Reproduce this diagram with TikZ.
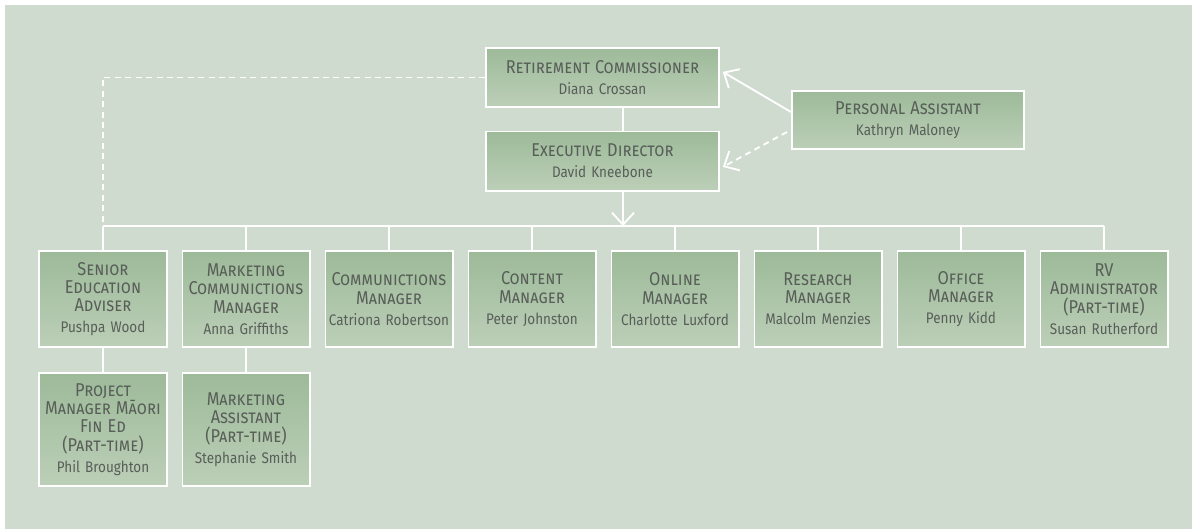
\documentclass[tikz,border=0pt]{standalone}
\usepackage{fontspec}
\setmainfont{Fira Sans}[FakeStretch=0.88]
\usepackage{tikz}
\usetikzlibrary{arrows.meta}
\usepackage{xcolor}
\definecolor{ocbg}{RGB}{208,219,208}
\definecolor{ocboxtop}{RGB}{157,186,153}
\definecolor{ocboxbot}{RGB}{188,207,184}
\definecolor{octext}{RGB}{88,94,88}
\tikzstyle{link} = [line width=1.3pt,color=white]
\tikzstyle{arrow} = [line width=1.3pt,-{Straight Barb[length=3mm,width=5.5mm]},color=white]
\tikzstyle{dashlink} = [link,dash pattern=on 1.5mm off 1.1mm]
\tikzstyle{dasharrow} = [arrow,dash pattern=on 1.5mm off 1.1mm]
\newcommand{\roletitle}[1]{{\fontsize{13.2}{13}\selectfont\scshape #1}}

\begin{document}
\begin{tikzpicture}[x=0.025cm, y=-0.025cm,
    role/.style={rectangle, draw=white, line width=1.4pt, top color=ocboxtop, bottom color=ocboxbot, text=octext, align=center, inner sep=0pt, font=\fontsize{10.9}{13}\selectfont},
    boss/.style={role, minimum width=5.825cm, minimum height=1.475cm, text width=5.6cm},
    staff/.style={role, minimum width=3.175cm, minimum height=2.4cm, text width=3.175cm},
    substaff/.style={staff, minimum height=2.825cm}]

% Background
\fill[white] (0,0) rectangle (1192,529);
\useasboundingbox (0,0) rectangle (1192,529);
\fill[ocbg] (5,5) rectangle (1192,529);

% Top of the chart
\node[boss] (rc) at (602.5,77.5) {\roletitle{Retirement Commissioner}\\[2pt]Diana Crossan};
\node[boss] (ed) at (602.5,161) {\roletitle{Executive Director}\\[2pt]David Kneebone};
\node[boss, minimum width=5.8cm, minimum height=1.45cm] (pa) at (908,120) {\roletitle{Personal Assistant}\\[2pt]Kathryn Maloney};

% Managers
\node[staff] (senior) at (103,299) {\roletitle{Senior\\Education\\Adviser}\\[2pt]Pushpa Wood};
\node[staff] (marcom) at (246,299) {\roletitle{Marketing\\Communictions\\Manager}\\[2pt]Anna Griffiths};
\node[staff] (comms) at (389,299) {\roletitle{Communictions\\Manager}\\[2pt]Catriona Robertson};
\node[staff] (content) at (532,299) {\roletitle{Content\\Manager}\\[2pt]Peter Johnston};
\node[staff] (online) at (675,299) {\roletitle{Online\\Manager}\\[2pt]Charlotte Luxford};
\node[staff] (research) at (818,299) {\roletitle{Research\\Manager}\\[2pt]Malcolm Menzies};
\node[staff] (office) at (961,299) {\roletitle{Office\\Manager}\\[2pt]Penny Kidd};
\node[staff] (rvadmin) at (1104,299) {\roletitle{RV\\Administrator\\(Part-time)}\\[2pt]Susan Rutherford};

% Second row
\node[substaff] (maori) at (103,429.5) {\roletitle{Project\\Manager Māori\\Fin Ed\\(Part-time)}\\[2pt]Phil Broughton};
\node[substaff] (markasst) at (246,429.5) {\roletitle{Marketing\\Assistant\\(Part-time)}\\[2pt]Stephanie Smith};

% Connectors
\coordinate (bus) at (623,226);
\draw[link] (rc.south -| bus) -- (ed.north -| bus);
\draw[arrow] (ed.south -| bus) -- (bus);
\draw[dashlink] (rc.west) -| (senior.north |- bus);
\draw[arrow] ([yshift=0.2cm]pa.west) -- ([xshift=0.07cm,yshift=0.14cm]rc.east);
\draw[dasharrow] ([xshift=-0.1cm,yshift=-0.3cm]pa.west) -- ([xshift=0.07cm,yshift=-0.15cm]ed.east);

\draw[link] (senior.north |- bus) -- (rvadmin.north |- bus);
\foreach \n in {senior,marcom,comms,content,online,research,office,rvadmin}
  \draw[link] (\n.north |- bus) -- (\n.north);
\draw[link] (senior) -- (maori);
\draw[link] (marcom) -- (markasst);

\end{tikzpicture}
\end{document}
